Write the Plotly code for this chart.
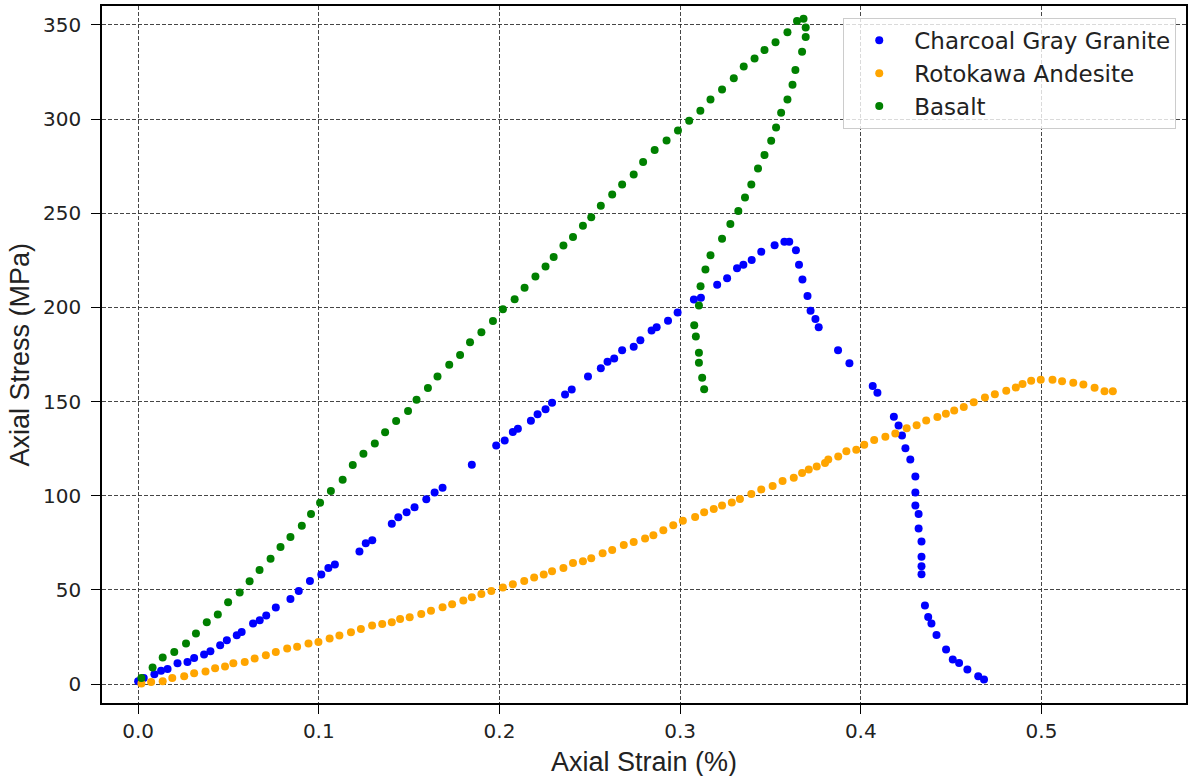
import plotly.graph_objects as go

# ---------------- data ----------------
granite_strain = [0.0000, 0.0031, 0.0090, 0.0127, 0.0163, 0.0218, 0.0273, 0.0310, 0.0365, 0.0400,
                  0.0454, 0.0491, 0.0546, 0.0573, 0.0636, 0.0673, 0.0709, 0.0762, 0.0843, 0.0889,
                  0.0951, 0.1014, 0.1053, 0.1089, 0.1225, 0.1260, 0.1296, 0.1404, 0.1440, 0.1486,
                  0.1530, 0.1595, 0.1641, 0.1685, 0.1847, 0.1982, 0.2029, 0.2074, 0.2102, 0.2174,
                  0.2211, 0.2255, 0.2291, 0.2363, 0.2400, 0.2490, 0.2561, 0.2598, 0.2635, 0.2679,
                  0.2743, 0.2780, 0.2842, 0.2870, 0.2933, 0.2986, 0.3076, 0.3115, 0.3205, 0.3260,
                  0.3315, 0.3350, 0.3396, 0.3449, 0.3523, 0.3577, 0.3604, 0.3641, 0.3658, 0.3677,
                  0.3705, 0.3722, 0.3749, 0.3767, 0.3874, 0.3937, 0.4066, 0.4092, 0.4183, 0.4209,
                  0.4228, 0.4247, 0.4274, 0.4302, 0.4302, 0.4302, 0.4320, 0.4320, 0.4336, 0.4336,
                  0.4336, 0.4336, 0.4355, 0.4373, 0.4391, 0.4419, 0.4472, 0.4509, 0.4544, 0.4590,
                  0.4650, 0.4682]
granite_stress = [1.6, 3.3, 5.3, 7.1, 8.0, 11.1, 11.8, 13.9, 15.8, 17.5,
                  20.7, 23.3, 26.0, 27.7, 32.2, 33.9, 36.4, 40.7, 45.2, 49.5,
                  54.8, 58.2, 61.7, 63.5, 70.4, 74.8, 76.4, 85.2, 88.6, 91.2,
                  93.9, 98.1, 101.7, 104.2, 116.5, 126.7, 129.4, 133.8, 135.6, 139.8,
                  143.3, 146.0, 149.4, 153.8, 156.4, 163.3, 167.7, 171.1, 172.9, 177.3,
                  179.1, 182.6, 187.7, 189.5, 192.9, 197.3, 204.2, 205.1, 212.0, 215.5,
                  220.8, 222.6, 225.2, 229.5, 233.0, 234.8, 234.8, 230.4, 222.6, 214.8,
                  206.0, 198.2, 193.9, 189.5, 177.3, 170.4, 158.3, 154.7, 142.0, 137.3,
                  132.0, 125.2, 119.2, 110.3, 101.7, 94.8, 90.3, 82.6, 75.7, 67.7,
                  62.6, 58.3, 41.7, 35.7, 32.2, 26.1, 18.4, 13.1, 11.3, 7.8,
                  4.2, 2.5]

andesite_strain = [0.0018, 0.0072, 0.0136, 0.0189, 0.0255, 0.0310, 0.0373, 0.0426, 0.0481, 0.0527,
                   0.0590, 0.0645, 0.0707, 0.0762, 0.0825, 0.0880, 0.0943, 0.0998, 0.1060, 0.1114,
                   0.1178, 0.1233, 0.1295, 0.1351, 0.1404, 0.1450, 0.1503, 0.1567, 0.1621, 0.1685,
                   0.1738, 0.1800, 0.1847, 0.1900, 0.1955, 0.2019, 0.2074, 0.2137, 0.2192, 0.2245,
                   0.2291, 0.2354, 0.2407, 0.2462, 0.2508, 0.2571, 0.2624, 0.2688, 0.2743, 0.2806,
                   0.2852, 0.2907, 0.2962, 0.3015, 0.3083, 0.3133, 0.3186, 0.3232, 0.3286, 0.3331,
                   0.3394, 0.3449, 0.3512, 0.3567, 0.3629, 0.3675, 0.3712, 0.3756, 0.3802, 0.3820,
                   0.3875, 0.3920, 0.3975, 0.4019, 0.4074, 0.4136, 0.4191, 0.4254, 0.4309, 0.4362,
                   0.4424, 0.4471, 0.4517, 0.4570, 0.4625, 0.4687, 0.4742, 0.4805, 0.4858, 0.4895,
                   0.4943, 0.4996, 0.5061, 0.5114, 0.5176, 0.5232, 0.5294, 0.5349, 0.5395]
andesite_stress = [0.4, 1.2, 1.6, 3.3, 4.2, 5.8, 6.7, 8.5, 9.4, 11.1,
                   11.8, 13.6, 15.4, 17.1, 18.9, 19.8, 21.6, 22.4, 24.2, 25.8,
                   27.6, 29.3, 31.1, 32.0, 32.9, 34.6, 35.5, 37.3, 39.0, 40.8,
                   42.4, 44.4, 46.1, 47.9, 49.5, 51.3, 53.0, 54.8, 56.6, 58.2,
                   59.9, 61.7, 64.3, 65.2, 66.8, 69.5, 71.2, 73.9, 75.5, 77.3,
                   79.0, 81.7, 84.3, 86.8, 88.7, 91.2, 93.0, 94.8, 96.5, 98.3,
                   100.9, 103.4, 105.2, 107.8, 109.6, 112.1, 113.9, 115.6, 117.4, 119.2,
                   120.9, 123.6, 124.5, 127.1, 129.6, 131.4, 133.1, 135.8, 137.4, 140.0,
                   141.8, 143.6, 145.3, 147.1, 149.7, 152.2, 153.9, 155.8, 157.5, 159.3,
                   161.1, 161.6, 161.6, 160.8, 160.0, 159.1, 157.3, 155.5, 155.5]

basalt_strain = [0.0018, 0.0080, 0.0136, 0.0200, 0.0265, 0.0320, 0.0380, 0.0441, 0.0498, 0.0562,
                 0.0617, 0.0672, 0.0733, 0.0788, 0.0843, 0.0906, 0.0957, 0.1007, 0.1067, 0.1132,
                 0.1188, 0.1247, 0.1310, 0.1367, 0.1428, 0.1494, 0.1541, 0.1604, 0.1657, 0.1722,
                 0.1782, 0.1837, 0.1900, 0.1964, 0.2019, 0.2084, 0.2139, 0.2199, 0.2255, 0.2300,
                 0.2354, 0.2407, 0.2462, 0.2508, 0.2561, 0.2624, 0.2679, 0.2743, 0.2795, 0.2859,
                 0.2925, 0.2988, 0.3050, 0.3112, 0.3168, 0.3232, 0.3297, 0.3352, 0.3412, 0.3467,
                 0.3528, 0.3594, 0.3647, 0.3683, 0.3695, 0.3695, 0.3675, 0.3638, 0.3622, 0.3594,
                 0.3559, 0.3531, 0.3504, 0.3467, 0.3431, 0.3394, 0.3359, 0.3322, 0.3278, 0.3232,
                 0.3168, 0.3140, 0.3113, 0.3104, 0.3078, 0.3087, 0.3104, 0.3104, 0.3122, 0.3133]
basalt_stress = [3.3, 8.9, 14.2, 17.1, 21.6, 26.9, 32.9, 37.0, 43.5, 48.6,
                 54.6, 60.6, 66.6, 72.8, 78.1, 84.1, 90.3, 96.3, 102.5, 108.5,
                 116.3, 122.3, 127.7, 133.7, 139.7, 145.0, 151.0, 157.2, 163.3, 169.5,
                 174.8, 181.5, 186.8, 192.8, 199.0, 204.3, 210.4, 216.4, 221.7, 226.8,
                 232.8, 237.4, 243.4, 247.8, 254.0, 260.0, 265.2, 270.5, 277.2, 283.6,
                 288.6, 293.9, 299.1, 304.4, 310.4, 315.7, 321.7, 327.9, 332.1, 336.6,
                 340.8, 346.1, 352.0, 353.2, 348.6, 343.6, 335.7, 326.0, 318.2, 310.4,
                 303.3, 295.5, 288.5, 280.9, 273.8, 265.3, 258.3, 251.2, 244.3, 236.4,
                 227.7, 220.1, 211.2, 201.0, 190.5, 184.5, 175.9, 170.6, 162.6, 156.6]

series_names = ["Charcoal Gray Granite", "Rotokawa Andesite", "Basalt"]
series_colors = ["#0000ff", "#ffa500", "#008000"]

x_ticks = [0.0, 0.1, 0.2, 0.3, 0.4, 0.5]
y_ticks = [0, 50, 100, 150, 200, 250, 300, 350]

# ---------------- figure ----------------
fig = go.Figure()
for name, color, xs, ys in zip(series_names, series_colors,
                               [granite_strain, andesite_strain, basalt_strain],
                               [granite_stress, andesite_stress, basalt_stress]):
    fig.add_trace(go.Scatter(x=xs, y=ys, mode="markers", name=name,
                             marker=dict(color=color, size=8, line=dict(width=0))))

tick_font = dict(family="DejaVu Sans", size=20, color="#222222")
axis_common = dict(showgrid=True, gridcolor="rgba(50,50,50,0.9)", gridwidth=0.8,
                   griddash="4px,2px", zeroline=False, showline=True, mirror=True,
                   linecolor="black", linewidth=1.5, ticks="outside", ticklen=9,
                   tickwidth=1.3, tickcolor="black", tickfont=tick_font)

fig.update_xaxes(range=[-0.02, 0.58], tickvals=x_ticks, tickformat=".1f", **axis_common)
fig.update_yaxes(range=[-10, 360], tickvals=y_ticks, ticklabelstandoff=6, **axis_common)

label_font = dict(family="Liberation Sans, Arial", size=27, color="#222222")
fig.add_annotation(text="Axial Strain (%)", xref="paper", yref="paper", x=0.5, y=0,
                   xanchor="center", yanchor="middle", yshift=-59, showarrow=False,
                   font=label_font)
fig.add_annotation(text="Axial Stress (MPa)", xref="paper", yref="paper", x=0, y=0.5,
                   xanchor="center", yanchor="middle", xshift=-83, textangle=-90,
                   showarrow=False, font=label_font)

fig.update_layout(
    width=1192, height=776,
    margin=dict(l=102, r=4, t=5, b=73),
    plot_bgcolor="white", paper_bgcolor="white",
    showlegend=True,
    legend=dict(x=0.991, y=0.983, xanchor="right", yanchor="top",
                bgcolor="rgba(255,255,255,0.8)", bordercolor="#cccccc", borderwidth=1,
                font=dict(family="DejaVu Sans", size=23, color="#222222"),
                itemwidth=60),
)

fig.write_html("out.html")
